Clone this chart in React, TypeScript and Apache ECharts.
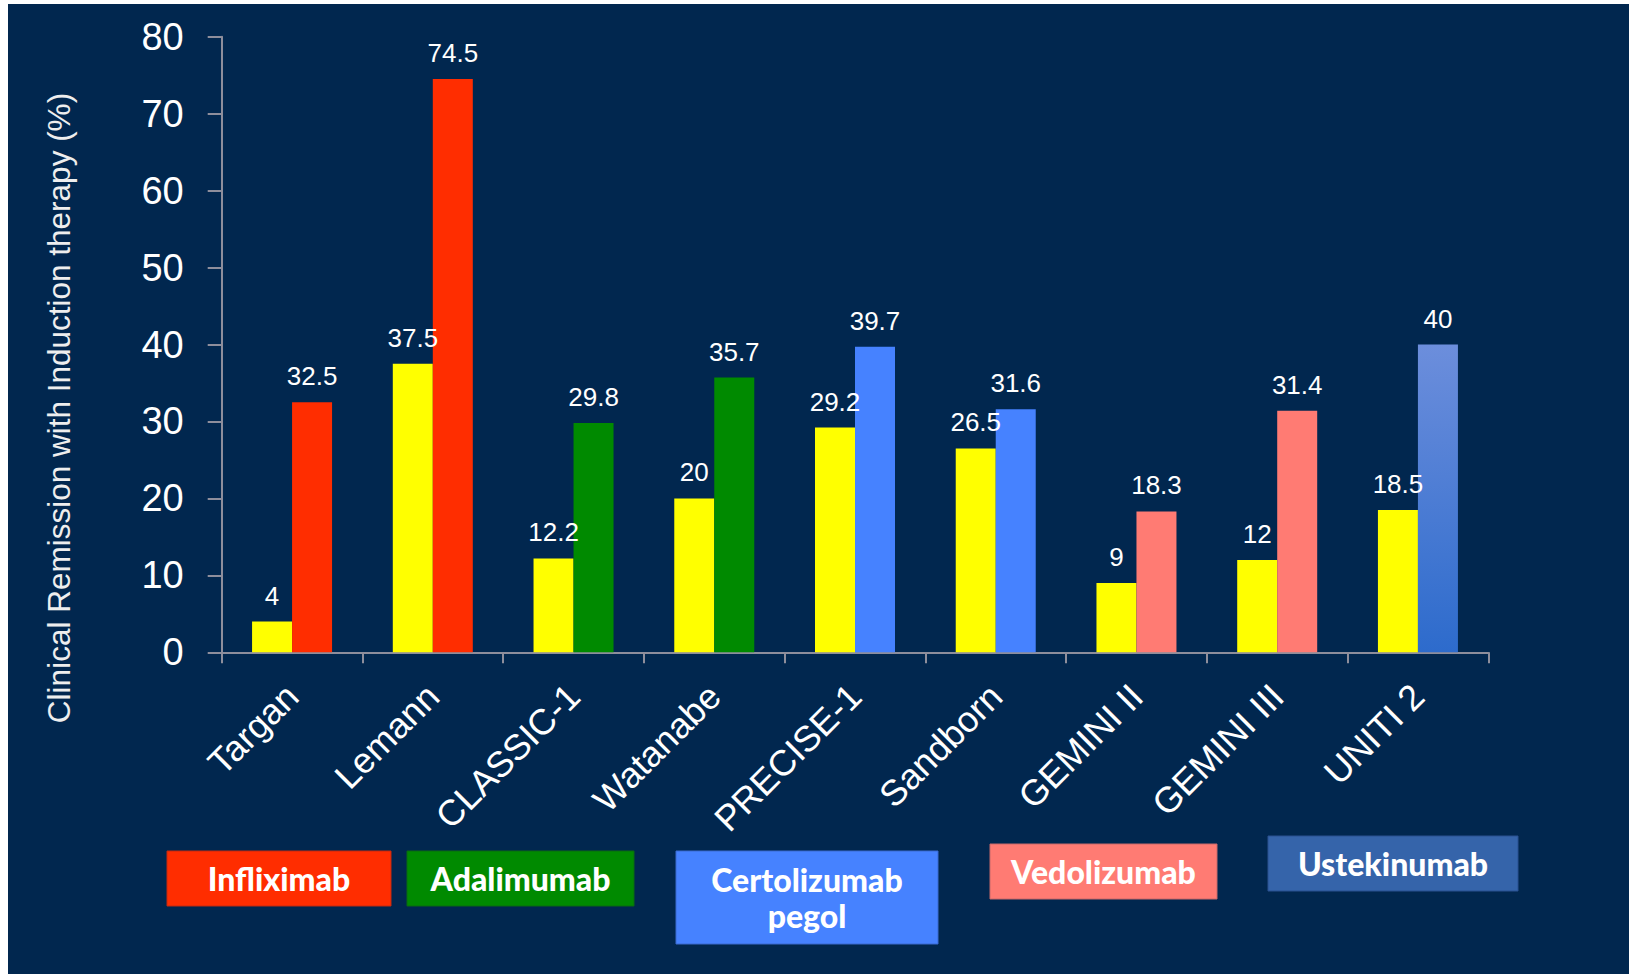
import React, { useEffect, useRef } from "react";
import * as echarts from "echarts";

const categories = ["Targan", "Lemann", "CLASSIC-1", "Watanabe", "PRECISE-1", "Sandborn", "GEMINI II", "GEMINI III", "UNITI 2"];
const placeboValues = [4, 37.5, 12.2, 20, 29.2, 26.5, 9, 12, 18.5];
const drugValues = [32.5, 74.5, 29.8, 35.7, 39.7, 31.6, 18.3, 31.4, 40];
const drugOfStudy = ["Infliximab", "Infliximab", "Adalimumab", "Adalimumab", "Certolizumab", "Certolizumab", "Vedolizumab", "Vedolizumab", "Ustekinumab"];
const legendNames = ["Infliximab", "Adalimumab", "Certolizumab", "Vedolizumab", "Ustekinumab"];
const legendLabels = [["Infliximab"], ["Adalimumab"], ["Certolizumab", "pegol"], ["Vedolizumab"], ["Ustekinumab"]];
const yAxisTitle = "Clinical Remission with Induction therapy (%)";

const BG = "#01274f";
const drugColors: Record<string, any> = {
  Infliximab: "#ff2d00",
  Adalimumab: "#008a00",
  Certolizumab: "#4682ff",
  Vedolizumab: "#ff7b73",
  Ustekinumab: new echarts.graphic.LinearGradient(0, 0, 0, 1, [
    { offset: 0, color: "#6c8edc" },
    { offset: 1, color: "#2d6bcc" },
  ]),
};
const legendColors: Record<string, string> = {
  Infliximab: "#ff2d00",
  Adalimumab: "#008a00",
  Certolizumab: "#4682ff",
  Vedolizumab: "#ff7b73",
  Ustekinumab: "#3564aa",
};
const legendBorders: Record<string, string> = {
  Infliximab: "#c42a10",
  Adalimumab: "#0a6a10",
  Certolizumab: "#3a6ad0",
  Vedolizumab: "#c86a6a",
  Ustekinumab: "#2a5090",
};
// legend box layout [x, y, w, h]
const legendBoxes = [
  [159, 847, 224, 55],
  [399, 847, 227, 55],
  [668, 847, 262, 93],
  [982, 840, 227, 55],
  [1260, 832, 250, 55],
];

export default function App() {
  const ref = useRef<HTMLDivElement>(null);
  useEffect(() => {
    if (!ref.current) return;
    const chart = echarts.init(ref.current, undefined, { renderer: "svg" });
    const axisColor = "#8e8e9c";
    const graphics: any[] = [];
    graphics.push({
      type: "text",
      x: 51,
      y: 404,
      rotation: Math.PI / 2,
      style: {
        text: yAxisTitle,
        fill: "#eeeeee",
        fontSize: 31.5,
        fontFamily: "Liberation Sans, Arial, sans-serif",
        align: "center",
        verticalAlign: "middle",
      },
    });
    const lineGap = 36;
    legendNames.forEach((n, i) => {
      const [x, y, w, h] = legendBoxes[i];
      graphics.push({
        type: "rect",
        shape: { x, y, width: w, height: h },
        style: { fill: legendColors[n], stroke: legendBorders[n], lineWidth: 1 },
      });
      const lines = legendLabels[i];
      lines.forEach((t, j) => {
        graphics.push({
          type: "text",
          x: x + w / 2,
          y: y + h / 2 + (j - (lines.length - 1) / 2) * lineGap,
          style: {
            text: t,
            fill: "#ffffff",
            fontSize: 32,
            fontWeight: 900,
            fontFamily: "Lato, Open Sans, sans-serif",
            align: "center",
            verticalAlign: "middle",
          },
        });
      });
    });

    chart.setOption({
      animation: false,
      backgroundColor: BG,
      grid: { left: 213.7, top: 32.7, right: 140.7, bottom: 321.7, containLabel: false },
      xAxis: {
        type: "category",
        data: categories,
        axisLine: { lineStyle: { color: axisColor, width: 2 } },
        axisTick: { show: true, length: 11, lineStyle: { color: axisColor, width: 2 } },
        axisLabel: {
          rotate: 45,
          margin: 38,
          color: "#ffffff",
          fontSize: 36,
          fontFamily: "Liberation Sans, Arial, sans-serif",
          interval: 0,
        },
      },
      yAxis: {
        type: "value",
        min: 0,
        max: 80,
        interval: 10,
        splitLine: { show: false },
        axisLine: { show: true, lineStyle: { color: axisColor, width: 2 } },
        axisTick: { show: true, length: 14, lineStyle: { color: axisColor, width: 2 } },
        axisLabel: {
          margin: 38,
          color: "#ffffff",
          fontSize: 38,
          fontFamily: "Liberation Sans, Arial, sans-serif",
        },
      },
      series: [
        {
          type: "bar",
          data: placeboValues,
          barWidth: 40,
          barGap: "0%",
          itemStyle: { color: "#ffff00" },
          label: {
            show: true,
            position: "top",
            distance: 13,
            color: "#ffffff",
            fontSize: 26,
            fontFamily: "Liberation Sans, Arial, sans-serif",
          },
        },
        {
          type: "bar",
          data: drugValues.map((v, i) => ({ value: v, itemStyle: { color: drugColors[drugOfStudy[i]] } })),
          barWidth: 40,
          barGap: "0%",
          label: {
            show: true,
            position: "top",
            distance: 13,
            color: "#ffffff",
            fontSize: 26,
            fontFamily: "Liberation Sans, Arial, sans-serif",
          },
        },
      ],
      graphic: graphics,
    });
    return () => chart.dispose();
  }, []);
  return (
    <div
      ref={ref}
      style={{ position: "absolute", left: 8, top: 4, width: 1621, height: 970 }}
    />
  );
}
